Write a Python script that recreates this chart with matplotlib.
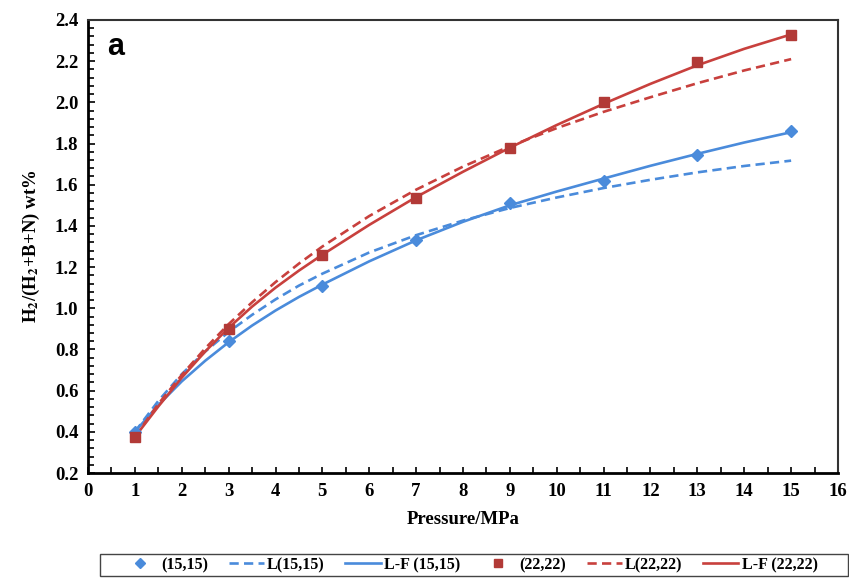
import matplotlib.pyplot as plt
from matplotlib.ticker import MultipleLocator
from matplotlib.patches import Rectangle

# measured points
pressure_pts = [1, 3, 5, 7, 9, 11, 13, 15]
h2_15 = [0.40, 0.84, 1.11, 1.33, 1.51, 1.62, 1.745, 1.86]
h2_22 = [0.376, 0.90, 1.26, 1.535, 1.78, 2.00, 2.195, 2.325]

# fitted curves (Langmuir and Langmuir-Freundlich)
pressure_fit = [1, 1.5, 2, 2.5, 3, 3.5, 4, 4.5, 5, 6, 7, 8, 9, 10, 11, 12, 13, 14, 15]
l_15 = [0.40, 0.55, 0.68, 0.79, 0.885, 0.968, 1.043, 1.11, 1.168,
        1.271, 1.355, 1.426, 1.487, 1.538, 1.584, 1.624, 1.66, 1.691, 1.717]
lf_15 = [0.40, 0.53, 0.645, 0.745, 0.835, 0.916, 0.989, 1.055, 1.115,
         1.228, 1.33, 1.42, 1.50, 1.567, 1.63, 1.692, 1.75, 1.805, 1.855]
l_22 = [0.376, 0.535, 0.676, 0.805, 0.923, 1.029, 1.127, 1.217, 1.30,
        1.448, 1.576, 1.688, 1.787, 1.875, 1.954, 2.025, 2.093, 2.155, 2.21]
lf_22 = [0.375, 0.523, 0.663, 0.79, 0.905, 1.008, 1.10, 1.183, 1.26,
         1.405, 1.54, 1.663, 1.78, 1.89, 1.993, 2.09, 2.18, 2.26, 2.33]

blue = '#4A8BDB'
red = '#C8403D'
red_mk = '#B23A37'

plt.rcParams['font.family'] = ['Liberation Serif', 'DejaVu Serif']
plt.rcParams['font.weight'] = 'bold'
plt.rcParams['mathtext.fontset'] = 'stix'
plt.rcParams['mathtext.default'] = 'bf'

fig = plt.figure(figsize=(8.49, 5.79), dpi=100)
ax = fig.add_axes([88 / 849, 1 - 473 / 579, 750 / 849, 453 / 579])

ax.plot(pressure_pts, h2_15, linestyle='none', marker='D', ms=6, color=blue, label='(15,15)', zorder=4)
ax.plot(pressure_fit, l_15, '--', color=blue, lw=1.9, dashes=(3.5, 2), label='L(15,15)')
ax.plot(pressure_fit, lf_15, '-', color=blue, lw=1.9, label='L-F (15,15)')
ax.plot(pressure_pts, h2_22, linestyle='none', marker='s', ms=7, color=red_mk, label='(22,22)', zorder=4)
ax.plot(pressure_fit, l_22, '--', color=red, lw=1.9, dashes=(3.5, 2), label='L(22,22)')
ax.plot(pressure_fit, lf_22, '-', color=red, lw=1.9, label='L-F (22,22)')

ax.set_xlim(0, 16)
ax.set_ylim(0.2, 2.4)
ax.xaxis.set_major_locator(MultipleLocator(1))
ax.xaxis.set_minor_locator(MultipleLocator(0.5))
ax.yaxis.set_major_locator(MultipleLocator(0.2))
ax.yaxis.set_minor_locator(MultipleLocator(0.04))
ax.yaxis.set_major_formatter(plt.FormatStrFormatter('%.1f'))

ax.tick_params(which='both', direction='in', labelsize=13.5, width=1.2, color='black')
ax.tick_params(which='major', length=5)
ax.tick_params(which='minor', length=4)
ax.tick_params(axis='x', which='both', length=4, pad=7)
ax.tick_params(axis='y', pad=7)
for lbl in ax.get_xticklabels() + ax.get_yticklabels():
    lbl.set_fontweight('bold')

ax.spines['left'].set_linewidth(2)
ax.spines['bottom'].set_linewidth(2)
ax.spines['top'].set_linewidth(1.5)
ax.spines['right'].set_linewidth(1.5)
ax.spines['top'].set_color('#333333')
ax.spines['right'].set_color('#333333')

ax.set_xlabel('Pressure/MPa', fontsize=13.5, fontweight='bold', labelpad=8)
ax.set_ylabel(r'H$_2$/(H$_2$+B+N) wt%', fontsize=13.5, fontweight='bold', labelpad=9)

ax.text(0.025, 0.973, 'a', transform=ax.transAxes, fontsize=22, fontweight='bold',
        family='Liberation Sans', va='top', ha='left')

# legend row with its own box below the axes
handles, labels = ax.get_legend_handles_labels()
leg = fig.legend(handles, labels, ncol=6, loc='center',
                 bbox_to_anchor=(470 / 849, 1 - 565 / 579),
                 frameon=False,
                 prop={'family': 'Liberation Serif', 'weight': 'bold', 'size': 11.5},
                 handlelength=2.2, handletextpad=0.2, columnspacing=1.3,
                 borderaxespad=0, borderpad=0.2, markerscale=0.8)
fig.patches.append(Rectangle((100 / 849, 1 - 576 / 579), 748 / 849, 22 / 579,
                             transform=fig.transFigure, fill=False,
                             edgecolor='#444444', linewidth=1.0))

fig.savefig('out.png', dpi=100)
